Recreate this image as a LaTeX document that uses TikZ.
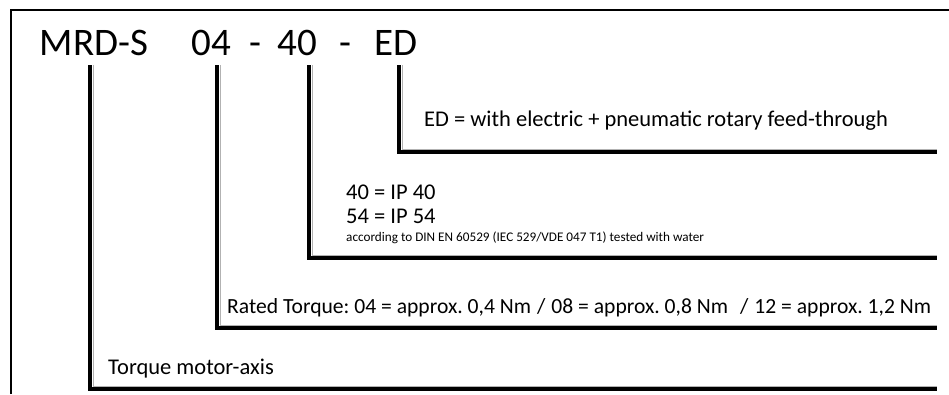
\documentclass[tikz,border=0pt]{standalone}
\usepackage{fontspec}
\setmainfont{Carlito}
\usetikzlibrary{positioning}
\frenchspacing

\begin{document}
\begin{tikzpicture}[x=1pt, y=-1pt,
    code/.style={font=\fontsize{39}{41}\selectfont, inner sep=0pt, anchor=base},
    desc/.style={font=\fontsize{22.5}{24}\selectfont, inner sep=0pt, anchor=base west},
    note/.style={font=\fontsize{13.2}{15}\selectfont, inner sep=0pt, anchor=base west},
    lead/.style={line width=4pt},
    edge/.style={draw=black!30, line width=0.6pt},
    node distance=0.06cm,
  ]
    \useasboundingbox (0,0) rectangle (949,394);
    \draw[line width=1.3pt] (11,394) -- (11,10) -- (949,10);

    % order code
    \node[code] (mrd)  at (94,55)  {MRD-S};
    \node[code] (torq) at (211,55) {04};
    \node[code] (d1)   at (255,55) {-};
    \node[code] (ip)   at (297,55) {40};
    \node[code] (d2)   at (345,55) {-};
    \node[code] (feed) at (396,55) {ED};

    % descriptions
    \node[desc] (t-feed) at (424,126) {ED = with electric + pneumatic rotary feed-through};
    \node[desc] (t-ip40) at (346,199) {40 = IP 40};
    \node[desc] (t-ip54) at (346,223) {54 = IP 54};
    \node[note] (t-din)  at (346,241) {according to DIN EN 60529 (IEC 529/VDE 047 T1) tested with water};
    \node[desc, font=\fontsize{21.6}{24}\selectfont] (t-torq) at (227,313)
      {Rated Torque: 04 = approx. 0,4 Nm\hspace{6pt}/\hspace{6pt}08 = approx. 0,8 Nm\hspace{12pt}/\hspace{6pt}12 = approx. 1,2 Nm};
    \node[desc] (t-mrd)  at (108,374) {Torque motor-axis};

    % leader lines
    \coordinate (mrd-top)  at (90,65);   \coordinate (mrd-end)  at (937,389);
    \coordinate (torq-top) at (217,65);  \coordinate (torq-end) at (937,328);
    \coordinate (ip-top)   at (309,65);  \coordinate (ip-end)   at (937,258);
    \coordinate (feed-top) at (399,65);  \coordinate (feed-end) at (937,152);

    \foreach \n in {mrd, torq, ip, feed} {
      \draw[edge] ([xshift=3pt]\n-top) |- ([yshift=3pt]\n-end);
      \draw[lead] (\n-top) |- (\n-end);
    }
\end{tikzpicture}
\end{document}
